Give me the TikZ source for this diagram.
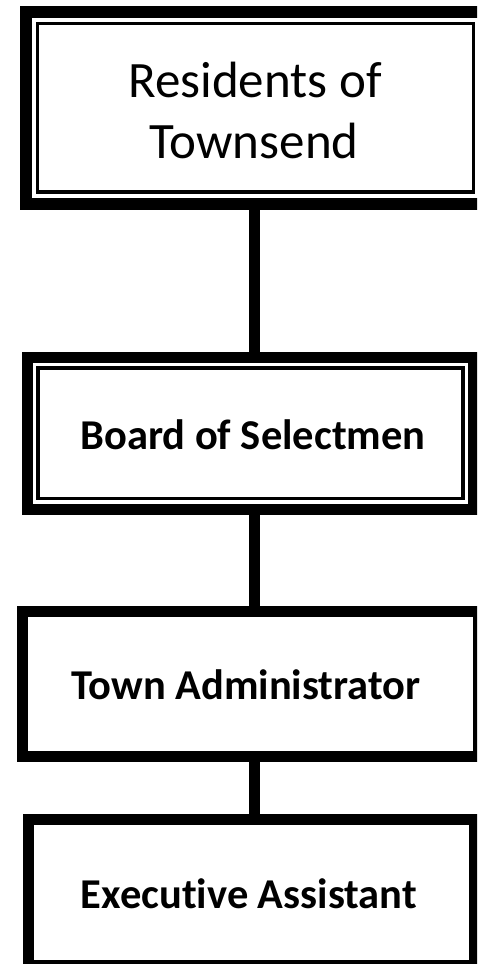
\documentclass[tikz,border=0pt]{standalone}
\usepackage{fontspec}
\setmainfont[Ligatures={NoCommon}]{Carlito}
\begin{document}
\begin{tikzpicture}[x=1pt,y=-1pt,
  outerbox/.style={draw=black, fill=white, rectangle, inner sep=0pt, outer sep=0pt},
  innerline/.style={draw=black, line width=3.5pt},
  conn/.style={draw=black, line width=11pt},
  bigtxt/.style={font=\fontsize{51}{61}\selectfont, anchor=base, inner sep=0pt},
  boldtxt/.style={font=\fontsize{42.5}{50}\selectfont\bfseries, anchor=base, inner sep=0pt}]
\useasboundingbox (0,0) rectangle (477,964);
\clip (0,0) rectangle (477,964);
\fill[white] (0,0) rectangle (477,964);
\coordinate (cx) at (254,0);
\node[outerbox, line width=12pt, minimum width=459pt, minimum height=191.5pt] (res) at (255.5,107.75) {};
\node[outerbox, line width=11pt, minimum width=446pt, minimum height=151.5pt] (bos) at (250.5,433.25) {};
\node[outerbox, line width=11pt, minimum width=456pt, minimum height=144.5pt] (adm) at (250,683.75) {};
\node[outerbox, line width=11pt, minimum width=446pt, minimum height=146pt] (exe) at (251,892) {};
\draw[conn] (res.south -| cx) -- (bos.north -| cx);
\draw[conn] (bos.south -| cx) -- (adm.north -| cx);
\draw[conn] (adm.south -| cx) -- (exe.north -| cx);
\draw[innerline] ([shift={(11.5,11.5)}]res.north west) rectangle ([shift={(-11.5,-11.5)}]res.south east);
\draw[innerline] ([shift={(10.5,10.5)}]bos.north west) rectangle ([shift={(-10.5,-10.5)}]bos.south east);
\node[bigtxt] (t1a) at (255,97) {Residents of};
\node[bigtxt] (t1b) at (254,158) {Townsend};
\node[boldtxt] (t2) at (253,449) {Board of Selectmen};
\node[boldtxt] (t3) at (246,699) {Town Administrator};
\node[boldtxt] (t4) at (249,908) {Executive Assistant};
\end{tikzpicture}
\end{document}
